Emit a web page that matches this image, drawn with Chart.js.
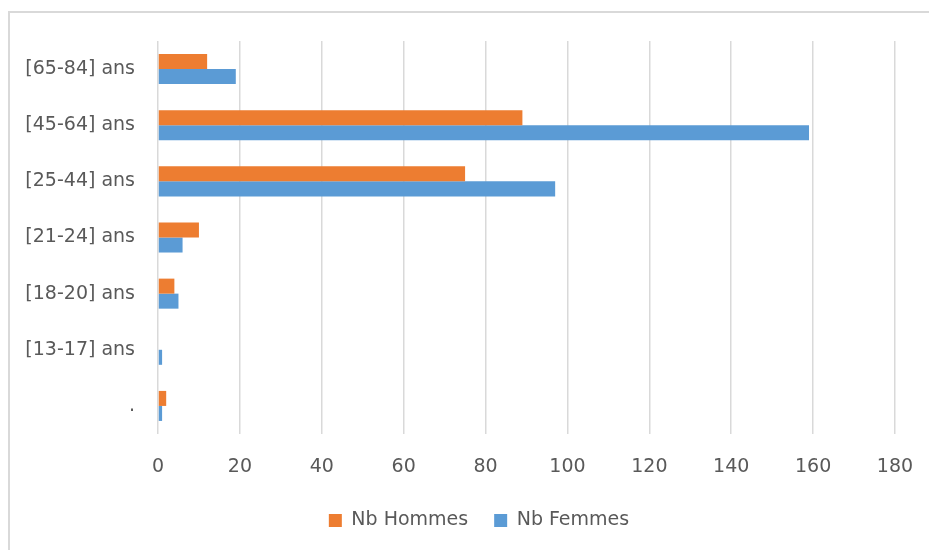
<!DOCTYPE html>
<html>
<head>
<meta charset="utf-8">
<script src="https://cdn.jsdelivr.net/npm/chart.js@4"></script>
<style>
  html, body { margin: 0; padding: 0; background: #fff; }
  #wrap { position: relative; width: 929px; height: 550px; }
  #frame { position: absolute; left: 8px; top: 11px; width: 940px; height: 560px;
           border-top: 2px solid #d9d9d9; border-left: 2px solid #d9d9d9; pointer-events: none; }
  canvas { position: absolute; left: 0; top: 0; }
</style>
</head>
<body>
<div id="wrap">
  <canvas id="c" width="929" height="550"></canvas>
  <div id="frame"></div>
</div>
<script>
const categories = ["[65-84] ans", "[45-64] ans", "[25-44] ans", "[21-24] ans", "[18-20] ans", "[13-17] ans", "."];
const hommes = [12, 89, 75, 10, 4, 0, 2];
const femmes = [19, 159, 97, 6, 5, 1, 1];
const xTicks = [0, 20, 40, 60, 80, 100, 120, 140, 160, 180];

const FONT = "'DejaVu Sans', sans-serif";
const TEXT = "#595959";
const FS = 19;

const legendTweak = {
  id: "legendTweak",
  beforeInit(chart) {
    const lg = chart.legend;
    if (!lg) return;
    const orig = lg.fit.bind(lg);
    lg.fit = function () { orig(); this.height = 65; };
  },
  afterLayout(chart) {
    const lg = chart.legend;
    if (!lg) return;
    const shift = 479 - (lg.left + lg.right) / 2;
    lg.left += shift; lg.right += shift;
  }
};

new Chart(document.getElementById("c"), {
  type: "bar",
  data: {
    labels: categories,
    datasets: [
      { label: "Nb Hommes", data: hommes, backgroundColor: "#ED7D31", borderWidth: 0,
        barPercentage: 1.0, categoryPercentage: 0.535 },
      { label: "Nb Femmes", data: femmes, backgroundColor: "#5B9BD5", borderWidth: 0,
        barPercentage: 1.0, categoryPercentage: 0.535 }
    ]
  },
  options: {
    indexAxis: "y",
    responsive: false,
    animation: false,
    layout: { padding: { top: 41, right: 34, bottom: 0, left: 0 } },
    scales: {
      x: {
        min: 0, max: xTicks[xTicks.length - 1],
        afterBuildTicks: (axis) => { axis.ticks = xTicks.map(v => ({ value: v })); },
        afterFit: (axis) => { axis.height = 51; axis.paddingRight = 0; axis.paddingLeft = 0; },
        grid: { color: "#d9d9d9", lineWidth: 1.5, drawTicks: false },
        border: { display: false },
        ticks: { color: TEXT, font: { family: FONT, size: FS }, padding: 22, maxRotation: 0 }
      },
      y: {
        afterFit: (axis) => { axis.width = 158; },
        grid: { display: false, drawTicks: false },
        border: { display: false },
        ticks: { color: TEXT, font: { family: FONT, size: FS }, padding: 23 }
      }
    },
    plugins: {
      legend: {
        position: "bottom",
        labels: { color: TEXT, font: { family: FONT, size: FS }, boxWidth: 13, boxHeight: 13, padding: 26 }
      },
      tooltip: { enabled: false }
    }
  },
  plugins: [legendTweak]
});
</script>
</body>
</html>
